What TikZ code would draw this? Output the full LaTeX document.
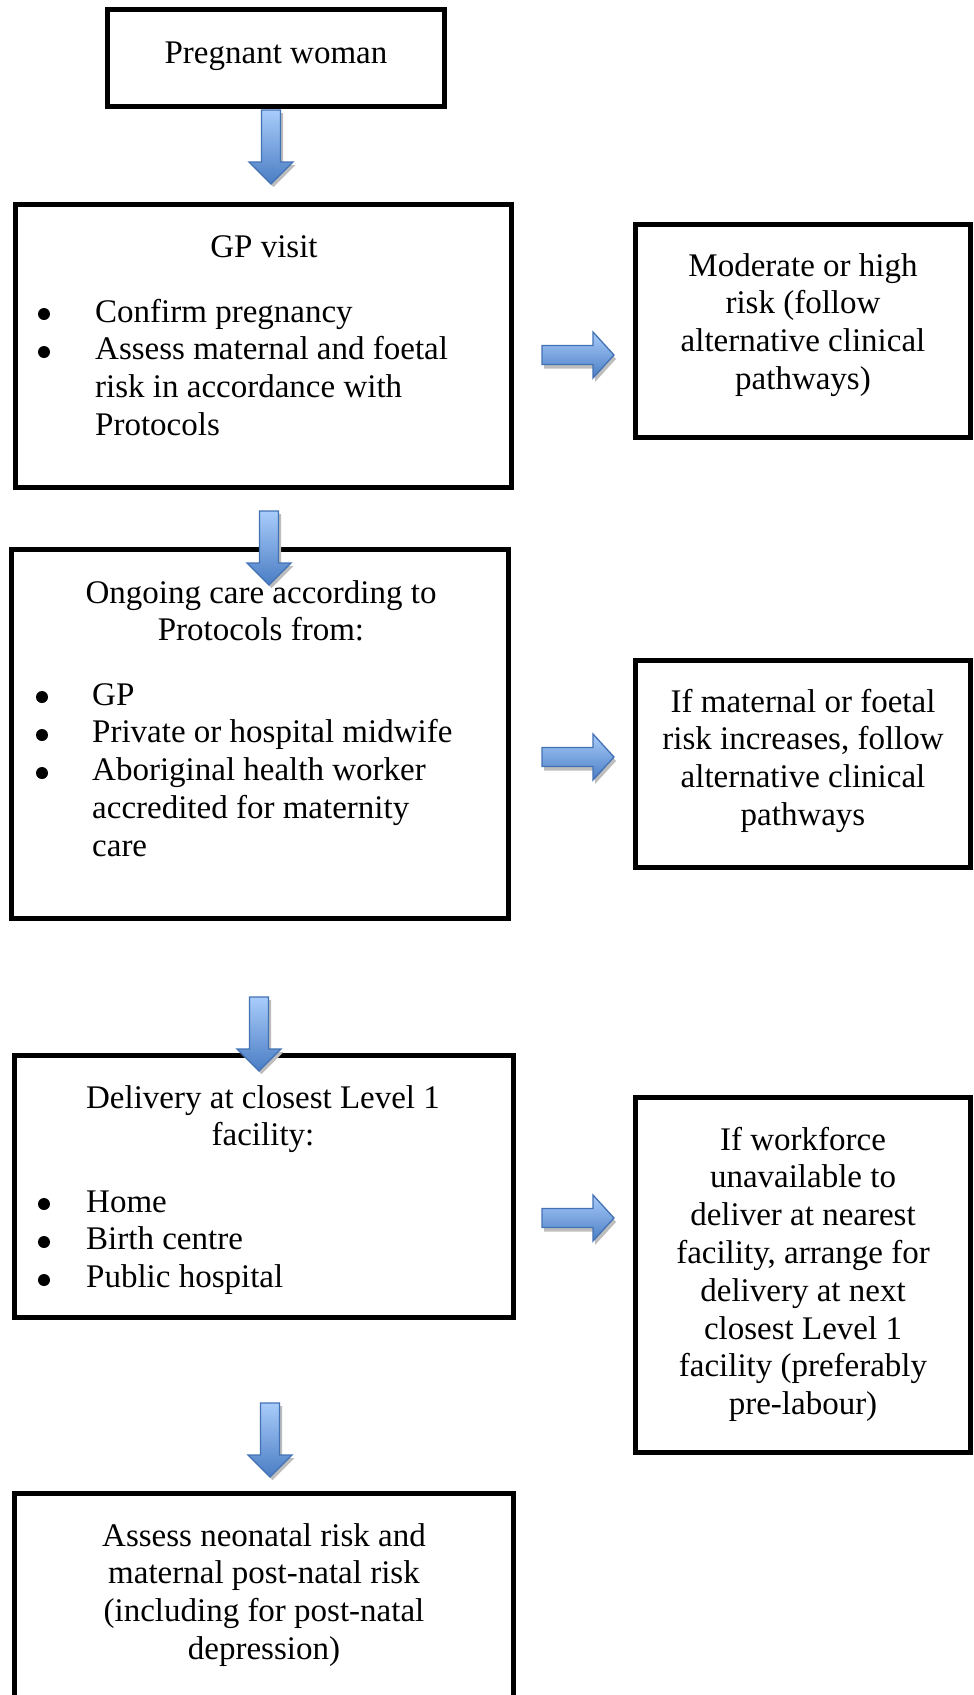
\documentclass[tikz,border=0pt]{standalone}
\usepackage{fontspec}
\setmainfont{Liberation Serif}
\usetikzlibrary{calc}
\definecolor{arrowlight}{HTML}{A9CCFA}
\definecolor{arrowdark}{HTML}{4A7DC4}
\definecolor{arrowedge}{HTML}{4372B4}
\definecolor{shadowgray}{HTML}{BDBDBD}
\tikzset{
  boxframe/.style={draw=black, line width=5pt, fill=white, inner sep=0pt},
  flowtext/.style={inner sep=0pt, font=\fontsize{33}{37.8}\selectfont},
  bulletdot/.style={fill=black},
  pics/downblock/.style={code={
    \fill[shadowgray] (-7,3) -- (-7,55) -- (-19.5,55) -- (2.5,77) -- (24.5,55) -- (12,55) -- (12,3) -- cycle;
    \shade[top color=arrowlight, bottom color=arrowdark, draw=arrowedge, line width=1.3pt]
      (-9.5,0) -- (-9.5,52) -- (-22,52) -- (0,74) -- (22,52) -- (9.5,52) -- (9.5,0) -- cycle;
  }},
  pics/rightblock/.style={code={
    \fill[shadowgray] (2,-5.5) -- (53,-5.5) -- (53,-19) -- (74,4) -- (53,27) -- (53,13.5) -- (2,13.5) -- cycle;
    \shade[top color=arrowlight, bottom color=arrowdark, draw=arrowedge, line width=1.3pt]
      (0,-9.5) -- (51,-9.5) -- (51,-23) -- (72,0) -- (51,23) -- (51,9.5) -- (0,9.5) -- cycle;
  }}
}
\begin{document}
\begin{tikzpicture}[x=1pt, y=-1pt]
\useasboundingbox (0,0) rectangle (974,1695);
\fill[white] (0,0) rectangle (974,1695);

% boxes
\node[boxframe, minimum width=337pt, minimum height=97pt] (b1) at (276,58) {};
\node[boxframe, minimum width=496pt, minimum height=283pt] (b2) at (263.5,346) {};
\node[boxframe, minimum width=335pt, minimum height=213pt] (r1) at (803,331) {};
\node[boxframe, minimum width=497pt, minimum height=369pt] (b3) at (260,734) {};
\node[boxframe, minimum width=335pt, minimum height=207pt] (r2) at (803,764) {};
\node[boxframe, minimum width=499pt, minimum height=262pt] (b4) at (264,1186.5) {};
\node[boxframe, minimum width=335pt, minimum height=355pt] (r3) at (803,1275) {};
\node[boxframe, minimum width=499pt, minimum height=264pt] (b5) at (264,1625.5) {};

% block arrows
\coordinate (a1) at (271,110);
\coordinate (a2) at (269,511);
\coordinate (a3) at (259,997);
\coordinate (a4) at (270,1403);
\coordinate (h1) at (542,355);
\coordinate (h2) at (542,757);
\coordinate (h3) at (542,1218);
\pic at (a1) {downblock};
\pic at (a2) {downblock};
\pic at (a3) {downblock};
\pic at (a4) {downblock};
\pic at (h1) {rightblock};
\pic at (h2) {rightblock};
\pic at (h3) {rightblock};

% texts
\node[flowtext, anchor=base] (t1) at (276,63) {Pregnant woman};

\node[flowtext, anchor=base] (t2) at (264,257) {GP visit};
\node[flowtext, anchor=base west] (l2) at (95,322) {\begin{tabular}[t]{@{}l@{}}Confirm pregnancy\\Assess maternal and foetal\\risk in accordance with\\Protocols\end{tabular}};
\fill[bulletdot] (44,314) circle[radius=6pt];
\fill[bulletdot] (44,352) circle[radius=6pt];

\node[flowtext, anchor=base] (tr1) at (803,276) {\begin{tabular}[t]{@{}c@{}}Moderate or high\\risk (follow\\alternative clinical\\pathways)\end{tabular}};

\node[flowtext, anchor=base] (t3) at (261,603) {\begin{tabular}[t]{@{}c@{}}Ongoing care according to\\Protocols from:\end{tabular}};
\node[flowtext, anchor=base west] (l3) at (92,705) {\begin{tabular}[t]{@{}l@{}}GP\\Private or hospital midwife\\Aboriginal health worker\\accredited for maternity\\care\end{tabular}};
\fill[bulletdot] (42,697) circle[radius=6pt];
\fill[bulletdot] (42,735) circle[radius=6pt];
\fill[bulletdot] (42,773) circle[radius=6pt];

\node[flowtext, anchor=base] (tr2) at (803,712) {\begin{tabular}[t]{@{}c@{}}If maternal or foetal\\risk increases, follow\\alternative clinical\\pathways\end{tabular}};

\node[flowtext, anchor=base] (t4) at (263,1108) {\begin{tabular}[t]{@{}c@{}}Delivery at closest Level 1\\facility:\end{tabular}};
\node[flowtext, anchor=base west] (l4) at (86,1212) {\begin{tabular}[t]{@{}l@{}}Home\\Birth centre\\Public hospital\end{tabular}};
\fill[bulletdot] (44,1204) circle[radius=6pt];
\fill[bulletdot] (44,1242) circle[radius=6pt];
\fill[bulletdot] (44,1280) circle[radius=6pt];

\node[flowtext, anchor=base] (tr3) at (803,1150) {\begin{tabular}[t]{@{}c@{}}If workforce\\unavailable to\\deliver at nearest\\facility, arrange for\\delivery at next\\closest Level 1\\facility (preferably\\pre-labour)\end{tabular}};

\node[flowtext, anchor=base] (t5) at (264,1546) {\begin{tabular}[t]{@{}c@{}}Assess neonatal risk and\\maternal post-natal risk\\(including for post-natal\\depression)\end{tabular}};
\end{tikzpicture}
\end{document}
